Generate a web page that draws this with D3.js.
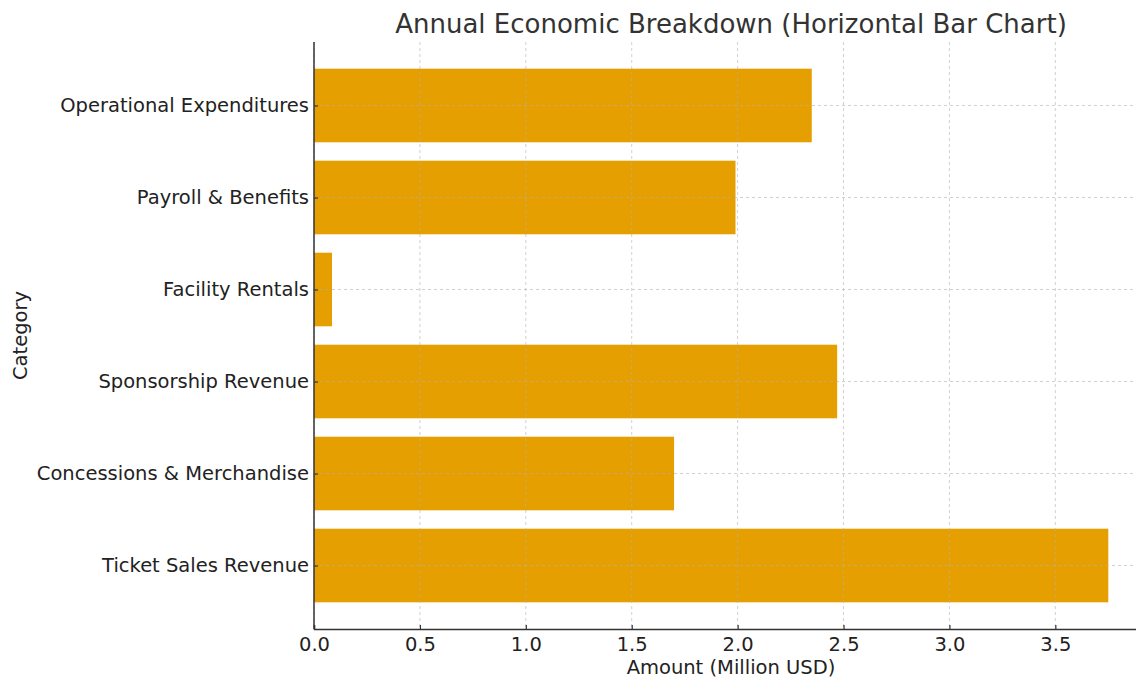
<!DOCTYPE html>
<html>
<head>
<meta charset="utf-8">
<script src="https://cdn.jsdelivr.net/npm/d3@7"></script>
<style>
  body { margin: 0; background: #fff; }
  svg { display: block; font-family: "DejaVu Sans", sans-serif; }
</style>
</head>
<body>
<svg id="chart"></svg>
<script>
// data, bottom to top as in the picture
var categories = ['Ticket Sales Revenue', 'Concessions & Merchandise', 'Sponsorship Revenue',
  'Facility Rentals', 'Payroll & Benefits', 'Operational Expenditures'];
var amounts = [3.75, 1.70, 2.47, 0.085, 1.99, 2.35];
var xTicks = [0, 0.5, 1.0, 1.5, 2.0, 2.5, 3.0, 3.5];

var W = 1136, H = 679;
var mLeft = 314, mTop = 42, mRight = 1148, mBottom = 629;

var svg = d3.select('#chart').attr('width', W).attr('height', H);

var x = d3.scaleLinear().domain([0, 3.9375]).range([mLeft, mRight]);
// y positions like matplotlib barh: index -0.69 .. 5.69
var yIdx = d3.scaleLinear().domain([-0.69, 5.69]).range([mBottom, mTop]);
var barH = yIdx(0) - yIdx(0.8);

// bars
svg.append('g').selectAll('rect').data(amounts).enter().append('rect')
  .attr('x', x(0))
  .attr('y', function(d, i) { return yIdx(i) - barH / 2; })
  .attr('width', function(d) { return x(d) - x(0); })
  .attr('height', barH)
  .attr('fill', '#E69F00');

// grid on top of bars
var grid = svg.append('g').attr('stroke', '#b0b0b0').attr('stroke-opacity', 0.6)
  .attr('stroke-width', 1).attr('stroke-dasharray', '3,3');
xTicks.forEach(function(t) {
  grid.append('line').attr('x1', x(t)).attr('x2', x(t)).attr('y1', mTop).attr('y2', mBottom);
});
categories.forEach(function(c, i) {
  grid.append('line').attr('x1', mLeft).attr('x2', mRight).attr('y1', yIdx(i)).attr('y2', yIdx(i));
});

// x axis (ticks point inward)
var xAxis = d3.axisBottom(x).tickValues(xTicks).tickFormat(d3.format('.1f')).tickSize(-4).tickPadding(8);
var gx = svg.append('g').attr('transform', 'translate(0,' + mBottom + ')').call(xAxis);
gx.select('.domain').attr('stroke', '#333').attr('stroke-width', 1.5);
gx.selectAll('.tick line').attr('stroke', '#333').attr('stroke-width', 1.2);
gx.selectAll('.tick text').attr('font-size', 19.5).attr('fill', '#222').attr('font-family', 'DejaVu Sans');

// y axis
var yBand = d3.scaleOrdinal().domain(categories).range(categories.map(function(c, i) { return yIdx(i); }));
var yAxis = d3.axisLeft(yBand).tickSize(-4).tickPadding(5);
var gy = svg.append('g').attr('transform', 'translate(' + mLeft + ',0)').call(yAxis);
gy.select('.domain').remove();
gy.append('line').attr('x1', 0).attr('x2', 0).attr('y1', mTop).attr('y2', mBottom)
  .attr('stroke', '#333').attr('stroke-width', 1.5);
gy.selectAll('.tick line').attr('stroke', '#333').attr('stroke-width', 1.2);
gy.selectAll('.tick text').attr('font-size', 19.5).attr('fill', '#222').attr('font-family', 'DejaVu Sans');

// title & labels
svg.append('text').attr('x', (mLeft + mRight) / 2).attr('y', 33).attr('text-anchor', 'middle')
  .attr('font-size', 26).attr('fill', '#333').text('Annual Economic Breakdown (Horizontal Bar Chart)');
svg.append('text').attr('x', (mLeft + mRight) / 2).attr('y', 674).attr('text-anchor', 'middle')
  .attr('font-size', 19.5).attr('fill', '#222').text('Amount (Million USD)');
svg.append('text').attr('transform', 'translate(27,' + ((mTop + mBottom) / 2) + ') rotate(-90)')
  .attr('text-anchor', 'middle').attr('font-size', 19.5).attr('fill', '#222').text('Category');
</script>
</body>
</html>
